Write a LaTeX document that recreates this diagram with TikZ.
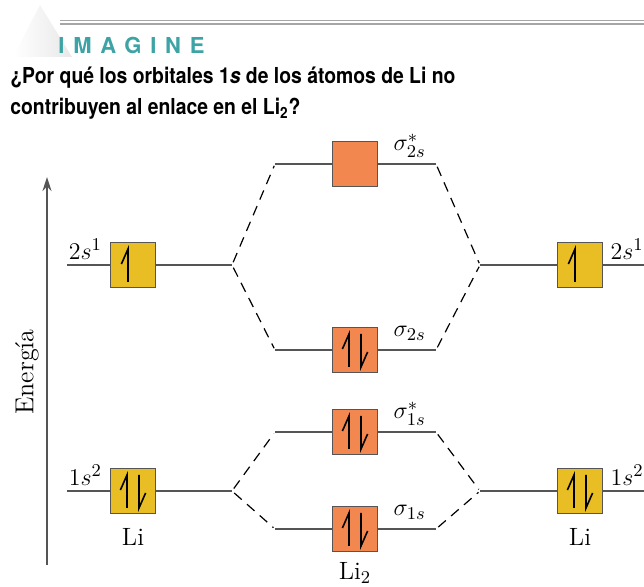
\documentclass[tikz,border=0pt]{standalone}
\usepackage{fontspec}
\newfontfamily\headfont{TeX Gyre Heros}
\newfontfamily\askfont[FakeStretch=0.88]{TeX Gyre Heros}
\usepackage{tikz}
\usetikzlibrary{positioning,arrows.meta}
\usepackage{xcolor}
\definecolor{aoyellow}   {RGB}{232,190, 36}
\definecolor{moorange}   {RGB}{243,135, 80}
\definecolor{imagineteal}{RGB}{ 62,163,165}
\definecolor{levelgray}  {RGB}{ 85, 85, 85}

% half arrows inside an orbital box
\newcommand{\spinup}[2]{\draw[spin] ([xshift=#2,yshift=-8.5pt]#1.center) -- ++(0pt,16.5pt) -- ++(-3.3pt,-7.5pt);}
\newcommand{\spindown}[2]{\draw[spin] ([xshift=#2,yshift=8pt]#1.center) -- ++(0pt,-16.5pt) -- ++(3.3pt,7.5pt);}

\begin{document}
\begin{tikzpicture}[x=0.5pt,y=-0.5pt,
    level/.style={levelgray, line width=0.9pt},
    link/.style={black, line width=0.6pt, dash pattern=on 5pt off 3.5pt,
                 shorten <=1.5pt, shorten >=1pt},
    orb/.style={draw=levelgray, line width=0.7pt, minimum size=22.5pt, inner sep=0pt},
    atomorb/.style={orb, fill=aoyellow},
    molorb/.style={orb, fill=moorange},
    spin/.style={black, line width=0.8pt, line join=miter},
    lab/.style={font=\fontsize{12.5}{14}\selectfont, inner sep=0pt}]

  \useasboundingbox (0,0) rectangle (644,587);

  % header
  \shade[left color=white, right color=gray!18] (13,57) -- (40,5) -- (72,57) -- cycle;
  \coordinate (rulea) at (60,20.7);
  \coordinate (ruleb) at (644,20.7);
  \draw[gray!70, line width=0.8pt] (rulea) -- (ruleb);
  \draw[gray!70, line width=0.8pt] ([yshift=-1.8pt]rulea) -- ([yshift=-1.8pt]ruleb);
  \node[anchor=base west, inner sep=0pt, text=imagineteal,
        font=\headfont\bfseries\fontsize{11}{12}\selectfont\addfontfeatures{LetterSpace=40}]
    (imagine) at (58,54) {IMAGINE};
  \node[anchor=base west, inner sep=0pt, font=\askfont\bfseries\fontsize{11}{14}\selectfont]
    (questa) at (10,84) {¿Por qué los orbitales 1\textit{s} de los átomos de Li no};
  \node[anchor=base west, inner sep=0pt, font=\askfont\bfseries\fontsize{11}{14}\selectfont]
    (questb) at (10,115) {contribuyen al enlace en el Li\textsubscript{2}?};

  % energy axis
  \coordinate (axbot) at (47,565);
  \coordinate (axtop) at (47,177);
  \draw[levelgray, line width=1pt, -{Stealth[length=7pt,width=4.5pt]}] (axbot) -- (axtop);
  \node[lab, rotate=90, font=\fontsize{13}{14}\selectfont] (energia) at (27,372) {Energía};

  % level ends
  \coordinate (l2a) at (67,265);   \coordinate (l2b) at (232,265);
  \coordinate (l1a) at (67,491);   \coordinate (l1b) at (232,491);
  \coordinate (r2a) at (480,265);  \coordinate (r2b) at (644,265);
  \coordinate (r1a) at (480,491);  \coordinate (r1b) at (644,491);
  \coordinate (m2xa) at (275,164); \coordinate (m2xb) at (436,164);
  \coordinate (m2a) at (275,350);  \coordinate (m2b) at (436,350);
  \coordinate (m1xa) at (275,432); \coordinate (m1xb) at (436,432);
  \coordinate (m1a) at (275,529);  \coordinate (m1b) at (436,529);

  % orbital boxes
  \node[atomorb] (li2sL) at (133,265) {};
  \node[atomorb] (li1sL) at (133,491) {};
  \node[atomorb] (li2sR) at (580,265) {};
  \node[atomorb] (li1sR) at (580,491) {};
  \node[molorb] (sig2sx) at (355,164) {};
  \node[molorb] (sig2s)  at (355,350) {};
  \node[molorb] (sig1sx) at (355,432) {};
  \node[molorb] (sig1s)  at (355,529) {};

  % levels
  \draw[level] (l2a) -- (li2sL) -- (l2b);
  \draw[level] (l1a) -- (li1sL) -- (l1b);
  \draw[level] (r2a) -- (li2sR) -- (r2b);
  \draw[level] (r1a) -- (li1sR) -- (r1b);
  \draw[level] (m2xa) -- (sig2sx) -- (m2xb);
  \draw[level] (m2a) -- (sig2s) -- (m2b);
  \draw[level] (m1xa) -- (sig1sx) -- (m1xb);
  \draw[level] (m1a) -- (sig1s) -- (m1b);

  % correlation lines
  \draw[link] (l2b) -- (m2xa);
  \draw[link] (l2b) -- (m2a);
  \draw[link] (m2xb) -- (r2a);
  \draw[link] (m2b) -- (r2a);
  \draw[link] (l1b) -- (m1xa);
  \draw[link] (l1b) -- (m1a);
  \draw[link] (m1xb) -- (r1a);
  \draw[link] (m1b) -- (r1a);

  % electrons
  \spinup{li2sL}{-2.5pt}
  \spinup{li2sR}{-2.5pt}
  \spinup{li1sL}{-3pt}   \spindown{li1sL}{3pt}
  \spinup{li1sR}{-3pt}   \spindown{li1sR}{3pt}
  \spinup{sig2s}{-3pt}   \spindown{sig2s}{3pt}
  \spinup{sig1sx}{-3pt}  \spindown{sig1sx}{3pt}
  \spinup{sig1s}{-3pt}   \spindown{sig1s}{3pt}

  % labels
  \node[lab, anchor=base east] (t2sL) at ([xshift=-3.7pt,yshift=2.7pt]li2sL.west) {$2s^1$};
  \node[lab, anchor=base east] (t1sL) at ([xshift=-3.7pt,yshift=2.7pt]li1sL.west) {$1s^2$};
  \node[lab, anchor=base west] (t2sR) at ([xshift=3.5pt,yshift=2.7pt]li2sR.east) {$2s^1$};
  \node[lab, anchor=base west] (t1sR) at ([xshift=3.5pt,yshift=2.7pt]li1sR.east) {$1s^2$};
  \node[lab, anchor=base west] (tsig2sx) at ([xshift=7.5pt,yshift=6.5pt]sig2sx.east) {$\sigma^{*}_{2s}$};
  \node[lab, anchor=base west] (tsig2s)  at ([xshift=7.5pt,yshift=6.5pt]sig2s.east)  {$\sigma_{2s}$};
  \node[lab, anchor=base west] (tsig1sx) at ([xshift=7.5pt,yshift=6.5pt]sig1sx.east) {$\sigma^{*}_{1s}$};
  \node[lab, anchor=base west] (tsig1s)  at ([xshift=7.5pt,yshift=6.5pt]sig1s.east)  {$\sigma_{1s}$};
  \node[lab, anchor=base] (liL) at ([yshift=-27.5pt]li1sL.center) {Li};
  \node[lab, anchor=base] (liR) at ([yshift=-27.5pt]li1sR.center) {Li};
  \node[lab, anchor=base] (litwo) at ([yshift=-25.5pt]sig1s.center) {Li$_2$};
\end{tikzpicture}
\end{document}
